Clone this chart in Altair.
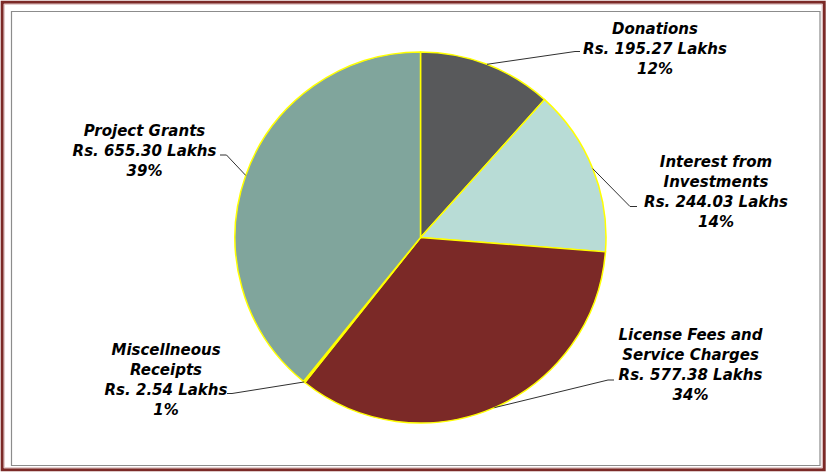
import altair as alt
import numpy as np
import pandas as pd

# --- data -------------------------------------------------------------
categories = [
    "Donations",
    "Interest from Investments",
    "License Fees and Service Charges",
    "Miscellneous Receipts",
    "Project Grants",
]
amounts = [195.27, 244.03, 577.38, 2.54, 655.30]      # Rs. Lakhs
percents = [12, 14, 34, 1, 39]
name_lines = [
    ["Donations"],
    ["Interest from", "Investments"],
    ["License Fees and", "Service Charges"],
    ["Miscellneous", "Receipts"],
    ["Project Grants"],
]

# --- styling / layout -------------------------------------------------
colors = ["#58595b", "#b8dcd6", "#7b2927", "#a5a5a5", "#80a59c"]
W, H = 826, 472
CX, CY, R = 420.5, 237.5, 185.5
FONT = "DejaVu Sans"

# label anchors (centre of the first line) and leader-line bends (pixels)
label_pos = [(655, 28.5), (716, 162), (690.5, 335), (166, 349.5), (144.5, 130.5)]
leader_bend = [(575, 51.5), (630, 206.5), (608, 380), (232, 393.5), (226.5, 155)]
leader_end = [(580, 51.5), (637, 206.5), (614, 380), (227, 393.5), (220, 155)]

# --- tables -----------------------------------------------------------
pie_df = pd.DataFrame({"category": categories, "amount": amounts,
                       "idx": range(len(categories))})

label_df = pd.DataFrame({
    "category": categories,
    "lx": [p[0] for p in label_pos],
    "ly": [p[1] for p in label_pos],
    "text": [lines + [f"Rs. {a:.2f} Lakhs", f"{p}%"]
             for lines, a, p in zip(name_lines, amounts, percents)],
})

# leader lines start on the rim at each slice's mid-angle
vals = np.array(amounts)
cum = np.cumsum(vals) - vals / 2
mid = cum / vals.sum() * 2 * np.pi
rows = []
for i, c in enumerate(categories):
    sx = CX + R * np.sin(mid[i])
    sy = CY - R * np.cos(mid[i])
    pts = [(sx, sy), leader_bend[i], leader_end[i]]
    for k, (px, py) in enumerate(pts):
        rows.append({"category": c, "seq": k, "px": px, "py": py})
leader_df = pd.DataFrame(rows)

one = pd.DataFrame({"k": [0]})

# --- frame ------------------------------------------------------------
outer = alt.Chart(one).mark_rect(fill="transparent", stroke="#7b2a27",
                                 strokeWidth=3).encode(
    x=alt.value(2.2), x2=alt.value(824.2), y=alt.value(2.2), y2=alt.value(469.8))
outer_in = alt.Chart(one).mark_rect(fill="transparent", stroke="#d9b8b8",
                                    strokeWidth=1).encode(
    x=alt.value(4.2), x2=alt.value(822.2), y=alt.value(4.2), y2=alt.value(467.8))
inner = alt.Chart(one).mark_rect(fill="transparent", stroke="#8c8c8c",
                                 strokeWidth=1.2).encode(
    x=alt.value(11.5), x2=alt.value(820), y=alt.value(11.5), y2=alt.value(465.5))

# --- pie --------------------------------------------------------------
pie = alt.Chart(pie_df).mark_arc(outerRadius=R, stroke="#ffff00",
                                 strokeWidth=1.5).encode(
    theta=alt.Theta("amount:Q", stack=True),
    order=alt.Order("idx:Q"),
    color=alt.Color("category:N",
                    scale=alt.Scale(domain=categories, range=colors),
                    legend=None),
    x=alt.value(CX),
    y=alt.value(CY),
)

leaders = alt.Chart(leader_df).mark_line(color="#303030", strokeWidth=1).encode(
    x=alt.X("px:Q", scale=None, axis=None),
    y=alt.Y("py:Q", scale=None, axis=None),
    detail="category:N",
    order="seq:Q",
)

labels = alt.Chart(label_df).mark_text(
    font=FONT, fontSize=15, fontWeight="bold", fontStyle="italic",
    lineHeight=20, align="center", baseline="middle", color="#000000",
).encode(
    x=alt.X("lx:Q", scale=None, axis=None),
    y=alt.Y("ly:Q", scale=None, axis=None),
    text="text",
)

chart = alt.layer(outer, outer_in, inner, pie, leaders, labels).properties(
    width=W, height=H, padding=0, autosize="none", background="white",
).configure_view(stroke=None)

chart.save("out.html", embed_options={"renderer": "svg", "actions": False})
